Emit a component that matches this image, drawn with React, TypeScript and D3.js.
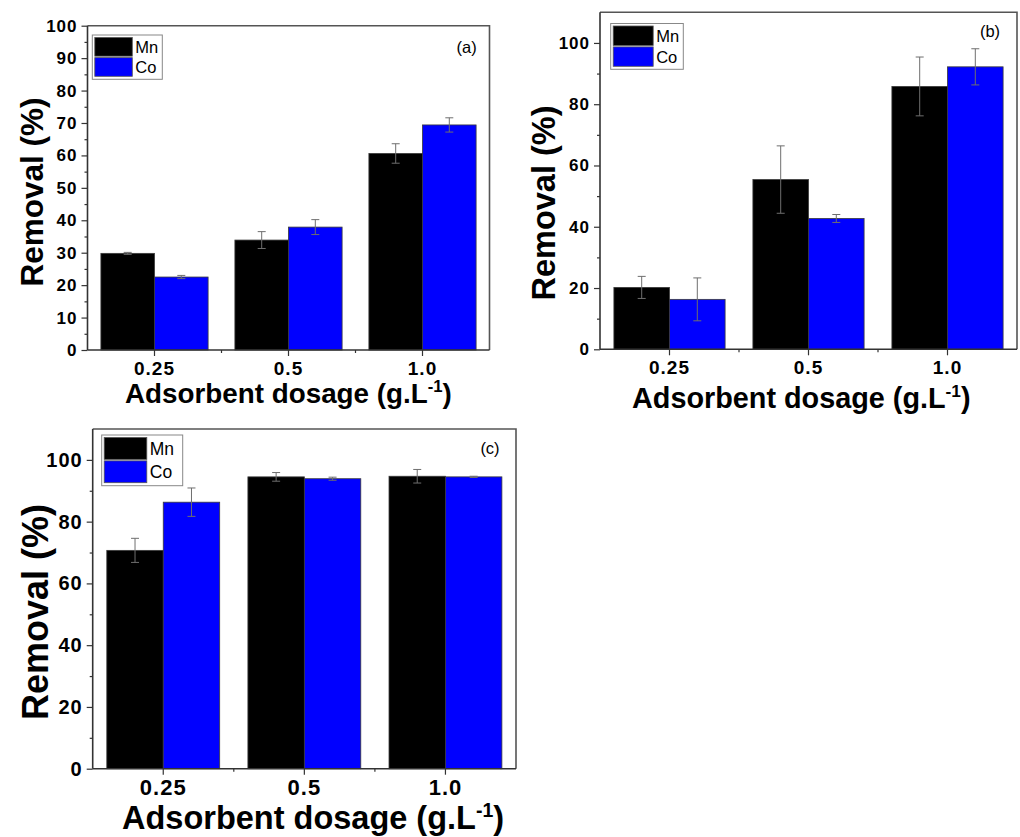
import React, { useEffect, useRef } from "react";
import * as d3 from "d3";

const categories = ["0.25", "0.5", "1.0"];
const seriesNames = ["Mn", "Co"];
const seriesColors = ["#000000", "#0000ff"];

// panel (a)
const aMn = [29.8, 33.9, 60.6];
const aCo = [22.5, 37.9, 69.4];
const aMnErr = [0.3, 2.6, 3.0];
const aCoErr = [0.5, 2.3, 2.2];
// panel (b)
const bMn = [20.2, 55.4, 85.8];
const bCo = [16.3, 42.7, 92.2];
const bMnErr = [3.6, 11.0, 9.6];
const bCoErr = [7.0, 1.3, 5.9];
// panel (c)
const cMn = [70.7, 94.5, 94.7];
const cCo = [86.3, 93.9, 94.5];
const cMnErr = [3.9, 1.4, 2.2];
const cCoErr = [4.6, 0.5, 0.2];

const yTicksA = [0, 10, 20, 30, 40, 50, 60, 70, 80, 90, 100];
const yTicksBC = [0, 20, 40, 60, 80, 100];

const FONT = "'Liberation Sans', Arial, Helvetica, sans-serif";

const panels = [
  {
    label: "(a)", labelX: 466.7, labelY: 46.7, labelSize: 16.5,
    left: 87.5, right: 489.5, top: 25.7, bottom: 350,
    yMax: 100, yTicks: yTicksA, yMinorStep: 5,
    values: [aMn, aCo], errs: [aMnErr, aCoErr],
    yTickFont: 17, xTickFont: 19, xTickY: 375,
    yTitle: { x: 43, y: 192, size: 31.5 },
    xTitle: { x: 125, y: 403, size: 27.8 },
    legend: { x: 92.3, y: 35, w: 70, h: 44.3, sw: 37.5, font: 16.5 },
  },
  {
    label: "(b)", labelX: 990, labelY: 30.7, labelSize: 16.5,
    left: 600, right: 1017, top: 12.3, bottom: 349.3,
    yMax: 110, yTicks: yTicksBC, yMinorStep: 10,
    values: [bMn, bCo], errs: [bMnErr, bCoErr],
    yTickFont: 17, xTickFont: 19, xTickY: 374,
    yTitle: { x: 555, y: 203, size: 32.5 },
    xTitle: { x: 632, y: 408, size: 28.8 },
    legend: { x: 610.7, y: 23.5, w: 72.6, h: 45.8, sw: 40, font: 16.5 },
  },
  {
    label: "(c)", labelX: 490, labelY: 448.3, labelSize: 16.5,
    left: 92.7, right: 516, top: 429, bottom: 768.7,
    yMax: 110, yTicks: yTicksBC, yMinorStep: 10,
    values: [cMn, cCo], errs: [cMnErr, cCoErr],
    yTickFont: 20, xTickFont: 22, xTickY: 795,
    yTitle: { x: 48, y: 612, size: 36 },
    xTitle: { x: 122, y: 829, size: 32.5 },
    legend: { x: 101.7, y: 435, w: 81, h: 50.7, sw: 42.6, font: 17.5 },
  },
];

function drawPanel(svg: d3.Selection<SVGSVGElement, unknown, null, undefined>, p: typeof panels[number]) {
  const g = svg.append("g");
  const x0 = d3.scaleBand<string>().domain(categories).range([p.left, p.right]).paddingInner(0.2).paddingOuter(0.1);
  const x1 = d3.scaleBand<string>().domain(seriesNames).range([0, x0.bandwidth()]);
  const y = d3.scaleLinear().domain([0, p.yMax]).range([p.bottom, p.top]);
  const step = x0.step();

  // bars
  seriesNames.forEach((s, si) => {
    g.append("g")
      .selectAll("rect")
      .data(categories)
      .join("rect")
      .attr("x", (c) => (x0(c) as number) + (x1(s) as number))
      .attr("y", (_c, i) => y(p.values[si][i]))
      .attr("width", x1.bandwidth())
      .attr("height", (_c, i) => y(0) - y(p.values[si][i]))
      .attr("fill", seriesColors[si])
      .attr("stroke", "#3a3a3a")
      .attr("stroke-width", 0.8);
  });

  // error bars
  seriesNames.forEach((s, si) => {
    const eg = g.append("g").attr("stroke", "#6e6e6e").attr("stroke-width", 1).attr("fill", "none");
    categories.forEach((c, i) => {
      const cx = (x0(c) as number) + (x1(s) as number) + x1.bandwidth() / 2;
      const v = p.values[si][i];
      const e = p.errs[si][i];
      const yt = y(v + e);
      const yb = y(v - e);
      eg.append("line").attr("x1", cx).attr("x2", cx).attr("y1", yt).attr("y2", yb);
      eg.append("line").attr("x1", cx - 4).attr("x2", cx + 4).attr("y1", yt).attr("y2", yt);
      eg.append("line").attr("x1", cx - 4).attr("x2", cx + 4).attr("y1", yb).attr("y2", yb);
    });
  });

  // frame top/right
  g.append("path")
    .attr("d", `M${p.left},${p.top}H${p.right}V${p.bottom}`)
    .attr("fill", "none")
    .attr("stroke", "#555")
    .attr("stroke-width", 1.6);

  // y axis minor
  const minorTicks = d3.range(0, p.yMax, p.yMinorStep).filter((v) => !p.yTicks.includes(v));
  const yMinor = d3.axisLeft(y).tickValues(minorTicks).tickSize(3).tickFormat(() => "");
  g.append("g").attr("transform", `translate(${p.left},0)`).call(yMinor)
    .call((ax) => ax.select(".domain").remove())
    .call((ax) => ax.selectAll("line").attr("stroke", "#333").attr("stroke-width", 1.2));

  // y axis major
  const yAxis = d3.axisLeft(y).tickValues(p.yTicks).tickSize(6).tickPadding(4).tickFormat(d3.format("d"));
  g.append("g").attr("transform", `translate(${p.left},0)`).call(yAxis)
    .call((ax) => ax.select(".domain").attr("stroke", "#333").attr("stroke-width", 1.6).attr("d", `M0,${p.bottom}V${p.top}`))
    .call((ax) => ax.selectAll(".tick line").attr("stroke", "#333").attr("stroke-width", 1.2))
    .call((ax) =>
      ax.selectAll(".tick text")
        .attr("font-family", FONT)
        .attr("font-weight", "bold")
        .attr("font-size", p.yTickFont)
        .attr("letter-spacing", 1)
        .attr("fill", "#000")
    );

  // x axis
  const xAxis = d3.axisBottom(x0).tickSize(6).tickFormat(() => "");
  g.append("g").attr("transform", `translate(0,${p.bottom})`).call(xAxis)
    .call((ax) => ax.select(".domain").attr("stroke", "#333").attr("stroke-width", 1.6).attr("d", `M${p.left},0H${p.right}`))
    .call((ax) => ax.selectAll(".tick line").attr("stroke", "#333").attr("stroke-width", 1.2));
  // x minor ticks at boundaries between categories
  const bounds = categories.slice(1).map((c) => (x0(c) as number) + x0.bandwidth() / 2 - step / 2);
  g.append("g")
    .selectAll("line")
    .data(bounds)
    .join("line")
    .attr("x1", (d) => d)
    .attr("x2", (d) => d)
    .attr("y1", p.bottom)
    .attr("y2", p.bottom + 3)
    .attr("stroke", "#333")
    .attr("stroke-width", 1.2);
  // x tick labels
  g.append("g")
    .selectAll("text")
    .data(categories)
    .join("text")
    .attr("x", (c) => (x0(c) as number) + x0.bandwidth() / 2)
    .attr("y", p.xTickY)
    .attr("text-anchor", "middle")
    .attr("font-family", FONT)
    .attr("font-weight", "bold")
    .attr("font-size", p.xTickFont)
    .attr("letter-spacing", 1)
    .text((c) => c);

  // y title
  g.append("text")
    .attr("transform", `translate(${p.yTitle.x},${p.yTitle.y}) rotate(-90)`)
    .attr("text-anchor", "middle")
    .attr("font-family", FONT)
    .attr("font-weight", "bold")
    .attr("font-size", p.yTitle.size)
    .text("Removal (%)");

  // x title
  const xt = g.append("text")
    .attr("x", p.xTitle.x)
    .attr("y", p.xTitle.y)
    .attr("font-family", FONT)
    .attr("font-weight", "bold")
    .attr("font-size", p.xTitle.size);
  xt.append("tspan").text("Adsorbent dosage (g.L");
  xt.append("tspan").attr("font-size", p.xTitle.size * 0.6).attr("dy", -p.xTitle.size * 0.38).text("-1");
  xt.append("tspan").attr("dy", p.xTitle.size * 0.38).text(")");

  // legend
  const L = p.legend;
  const lg = g.append("g");
  lg.append("rect")
    .attr("x", L.x).attr("y", L.y).attr("width", L.w).attr("height", L.h)
    .attr("fill", "#fff").attr("stroke", "#888").attr("stroke-width", 1);
  const rowH = (L.h - 4) / 2;
  seriesNames.forEach((s, si) => {
    const ry = L.y + 2 + si * rowH;
    lg.append("rect")
      .attr("x", L.x + 2.5).attr("y", ry + 0.5)
      .attr("width", L.sw).attr("height", rowH - 1.5)
      .attr("fill", seriesColors[si]).attr("stroke", "#555").attr("stroke-width", 0.8);
    lg.append("text")
      .attr("x", L.x + 2.5 + L.sw + 3)
      .attr("y", ry + rowH / 2)
      .attr("dominant-baseline", "central")
      .attr("font-family", FONT)
      .attr("font-size", L.font)
      .text(s);
  });

  // panel label
  g.append("text")
    .attr("x", p.labelX)
    .attr("y", p.labelY)
    .attr("text-anchor", "middle")
    .attr("dominant-baseline", "central")
    .attr("font-family", FONT)
    .attr("font-size", p.labelSize)
    .text(p.label);
}

export default function App() {
  const ref = useRef<SVGSVGElement>(null);
  useEffect(() => {
    if (!ref.current) return;
    const svg = d3.select(ref.current);
    svg.selectAll("*").remove();
    panels.forEach((p) => drawPanel(svg, p));
  }, []);
  return (
    <svg
      ref={ref}
      width={1020}
      height={837}
      style={{ position: "absolute", left: 0, top: 0, background: "#fff" }}
    />
  );
}
